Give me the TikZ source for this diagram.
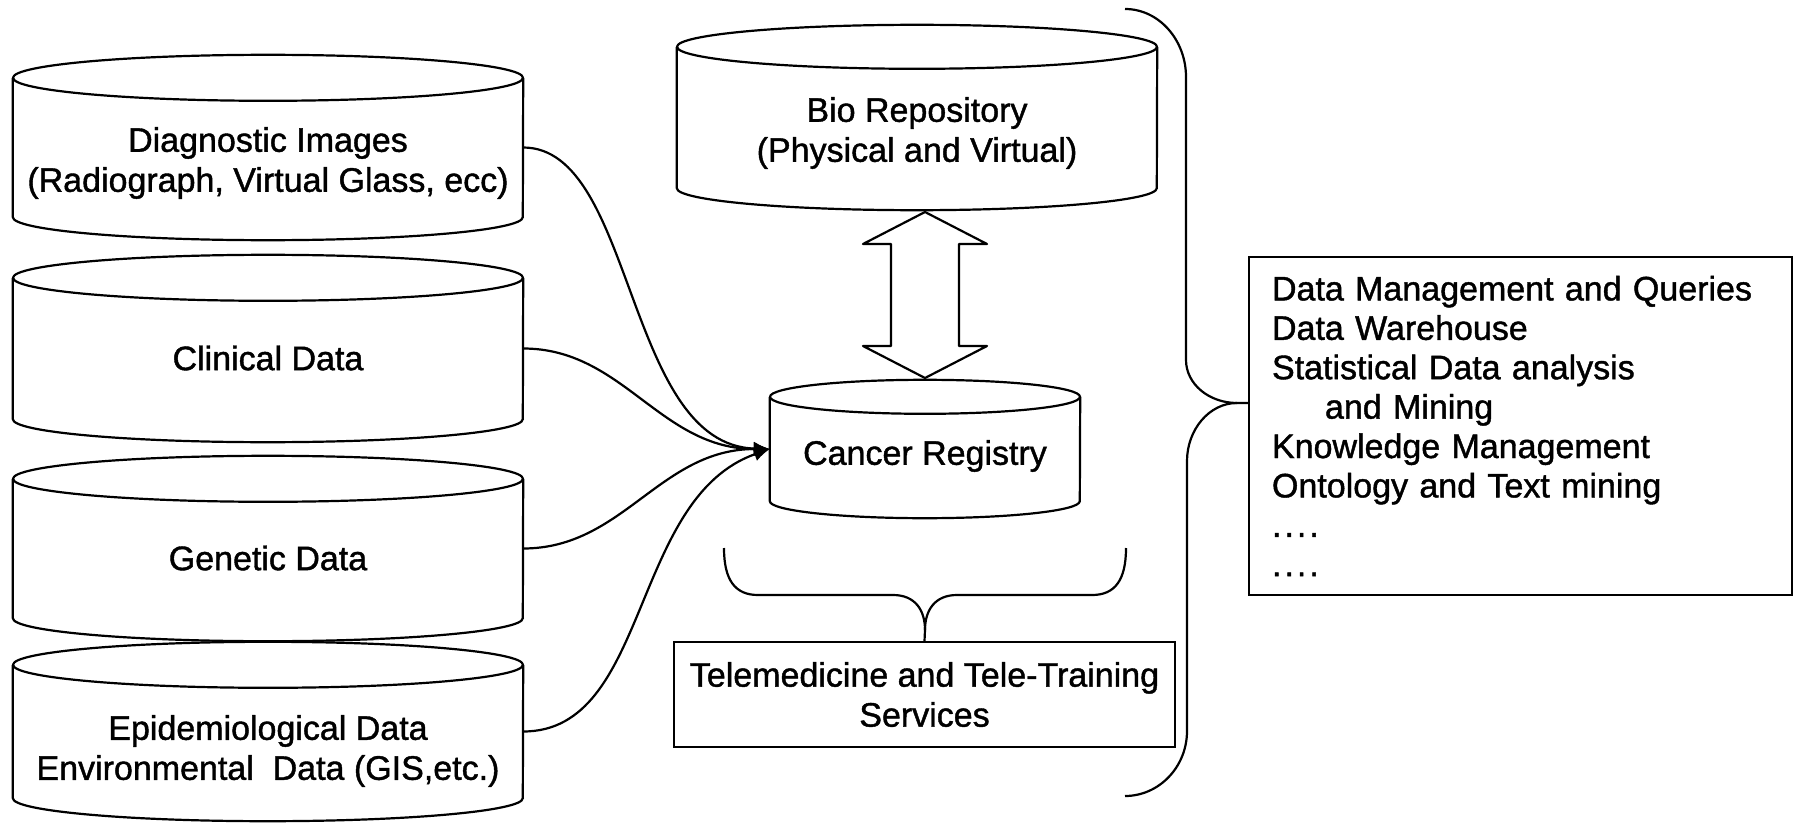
\documentclass[tikz,border=0pt]{standalone}
\usepackage{fontspec}
\setmainfont{Liberation Sans}[FakeBold=1.2]
\usetikzlibrary{arrows.meta}

% outline of a storage drum built on a named body node (side lines = node box)
\newcommand\drum[3]{% #1 node name, #2 x radius, #3 y radius
  \draw[outline] (#1.north west) -- (#1.south west)
    arc[start angle=180, end angle=360, x radius=#2, y radius=#3] -- (#1.north east);
  \draw[outline] (#1.north) ellipse[x radius=#2, y radius=#3];
}
\newcommand\etcdots{.\kern3pt.\kern3pt.\kern3pt.}

\tikzset{
  outline/.style={draw=black, line width=2.2pt, line join=round},
  body/.style={inner sep=0pt, draw=none},
  txt/.style={font=\fontsize{34}{40}\selectfont, align=center, inner sep=0pt},
  framebox/.style={draw=black, line width=2pt},
  conn/.style={outline, -{Latex[length=16pt,width=14pt]}},
}

\begin{document}
\begin{tikzpicture}[x=1pt, y=1pt]
\useasboundingbox (0,0) rectangle (1794,-824);
\fill[white] (0,0) rectangle (1794,-824);

% data sources on the left
\node[body, minimum width=510pt, minimum height=139pt] (diag) at (268,-147.5) {};
\node[body, minimum width=510pt, minimum height=141pt] (clin) at (268,-348.5) {};
\node[body, minimum width=510pt, minimum height=139pt] (gene) at (268,-548.5) {};
\node[body, minimum width=510pt, minimum height=133pt] (epid) at (268,-731.5) {};
\drum{diag}{255}{23}
\drum{clin}{255}{23}
\drum{gene}{255}{23}
\drum{epid}{255}{23}
\node[txt] (diag-t) at (268,-163) {Diagnostic Images\\(Radiograph, Virtual Glass, ecc)};
\node[txt] (clin-t) at (268,-358) {Clinical Data};
\node[txt] (gene-t) at (268,-558) {Genetic Data};
\node[txt] (epid-t) at (268,-751) {Epidemiological Data\\Environmental\ \ Data (GIS,etc.)};

% central stores
\node[body, minimum width=480pt, minimum height=141pt] (bio) at (917,-117.5) {};
\drum{bio}{240}{22}
\node[txt] (bio-t) at (917,-133) {Bio Repository\\(Physical and Virtual)};

\node[body, minimum width=310pt, minimum height=104pt] (reg) at (925,-449) {};
\drum{reg}{155}{17}
\node[txt] (reg-t) at (925,-456) {Cancer Registry};

% two-way exchange between repository and registry
\draw[outline, fill=white] (925,-212) -- (987,-244) -- (959,-244) -- (959,-346)
  -- (987,-346) -- (925,-378) -- (863,-346) -- (891,-346) -- (891,-244)
  -- (863,-244) -- cycle;

% feeds into the registry
\draw[conn] (diag.east) .. controls +(112,0) and +(-145,4) .. (reg.west);
\draw[conn] (clin.east) .. controls +(100,0) and +(-110,0) .. (reg.west);
\draw[conn] (gene.east) .. controls +(100,0) and +(-110,0) .. (reg.west);
\draw[conn] (epid.east) .. controls +(127,0) and +(-140,-49) .. (reg.west);

% services box and its brace
\node[framebox, txt, minimum width=501pt, minimum height=105pt] (tele) at (924.5,-694.5)
  {Telemedicine and Tele-Training\\Services};
\draw[outline] (724,-548) .. controls (724,-580) and (735,-595) .. (758,-595)
  -- (893,-595) .. controls (915,-595) and (925,-610) .. (925,-630) -- (tele.north);
\draw[outline] (1126,-548) .. controls (1126,-580) and (1115,-595) .. (1092,-595)
  -- (957,-595) .. controls (935,-595) and (925,-610) .. (925,-630);

% analysis tools box and the large brace
\node[framebox, minimum width=543pt, minimum height=338pt, text width=497pt,
  align=left, inner sep=0pt, font=\fontsize{34}{39.4}\selectfont] (tools) at (1520.5,-426)
  {Data Management and Queries\\
   Data Warehouse\\
   Statistical Data analysis\\
   \hspace*{53pt}and Mining\\
   Knowledge Management\\
   Ontology and Text mining\\
   \etcdots\\
   \etcdots};
\coordinate (tip) at ([yshift=23pt]tools.west);
\draw[outline] (1125,-9) .. controls (1159,-9) and (1186,-40) .. (1186,-77)
  -- (1186,-360) .. controls (1186,-384) and (1209,-403) .. (1237,-403) -- (tip);
\draw[outline] (1237,-403) .. controls (1209,-403) and (1187,-430) .. (1187,-461)
  -- (1187,-731) .. controls (1187,-767) and (1159,-796) .. (1125,-796);
\end{tikzpicture}
\end{document}
